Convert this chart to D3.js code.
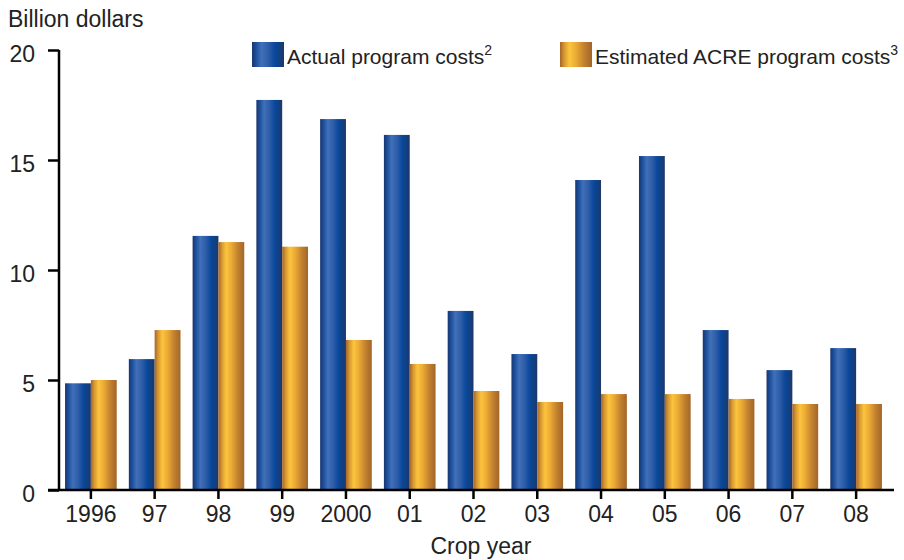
<!DOCTYPE html>
<html>
<head>
<meta charset="utf-8">
<script src="https://cdn.jsdelivr.net/npm/d3@7"></script>
<style>
  body { margin: 0; background: #fff; }
  svg { display: block; font-family: "Liberation Sans", Arial, sans-serif; }
  .tick text { fill: #222; font-size: 23px; }
</style>
</head>
<body>
<div id="wrapper"></div>
<script>
// data
const years = ['1996', '97', '98', '99', '2000', '01', '02', '03', '04', '05', '06', '07', '08'];
const actualCosts = [4.85, 5.95, 11.55, 17.73, 16.86, 16.14, 8.14, 6.18, 14.09, 15.18, 7.27, 5.45, 6.45];
const acreCosts = [5.0, 7.27, 11.27, 11.06, 6.82, 5.73, 4.5, 4.0, 4.36, 4.36, 4.14, 3.91, 3.91];
const yTicks = [0, 5, 10, 15, 20];
const seriesKeys = ['actual', 'acre'];

function drawChart() {
  const dataset = years.map((y, i) => ({ year: y, actual: actualCosts[i], acre: acreCosts[i] }));

  const dimensions = {
    width: 904,
    height: 560,
    margin: { top: 50, right: 10, bottom: 70, left: 59 },
  };
  dimensions.boundedWidth = dimensions.width - dimensions.margin.left - dimensions.margin.right;
  dimensions.boundedHeight = dimensions.height - dimensions.margin.top - dimensions.margin.bottom;

  const wrapper = d3.select('#wrapper')
    .append('svg')
    .attr('width', dimensions.width)
    .attr('height', dimensions.height);

  // gradients
  const defs = wrapper.append('defs');
  const gradStops = {
    actual: [['0%', '#1b356c'], ['12%', '#1a4d9b'], ['30%', '#4170b8'], ['50%', '#2f5eaa'], ['72%', '#08479a'], ['100%', '#1d386a']],
    acre: [['0%', '#a3662a'], ['14%', '#d99a31'], ['30%', '#fcc43d'], ['50%', '#ecaa35'], ['75%', '#c2822f'], ['100%', '#a26528']],
  };
  seriesKeys.forEach(k => {
    defs.append('linearGradient')
      .attr('id', 'grad-' + k)
      .attr('x1', 0).attr('x2', 1).attr('y1', 0).attr('y2', 0)
      .selectAll('stop')
      .data(gradStops[k])
      .enter()
      .append('stop')
      .attr('offset', d => d[0])
      .attr('stop-color', d => d[1]);
  });

  const bounds = wrapper.append('g')
    .attr('transform', `translate(${dimensions.margin.left},${dimensions.margin.top})`);

  // scales
  const x0 = d3.scaleBand()
    .domain(years)
    .range([0, dimensions.boundedWidth - 6])
    .paddingInner(0.19)
    .paddingOuter(0.095);
  const x1 = d3.scaleBand()
    .domain(seriesKeys)
    .range([0, x0.bandwidth()]);
  const yScale = d3.scaleLinear()
    .domain([0, 20])
    .range([dimensions.boundedHeight, 0]);

  // bars
  const groups = bounds.selectAll('.year')
    .data(dataset)
    .enter()
    .append('g')
    .attr('class', 'year')
    .attr('transform', d => `translate(${x0(d.year)},0)`);
  groups.selectAll('rect')
    .data(d => seriesKeys.map(k => ({ key: k, value: d[k] })))
    .enter()
    .append('rect')
    .attr('x', d => x1(d.key))
    .attr('width', x1.bandwidth())
    .attr('y', d => yScale(d.value))
    .attr('height', d => yScale(0) - yScale(d.value))
    .attr('fill', d => `url(#grad-${d.key})`);

  // axes
  const yAxis = bounds.append('g')
    .call(d3.axisLeft(yScale).tickValues(yTicks).tickSize(11).tickPadding(13));
  yAxis.select('.domain').remove();
  yAxis.append('line')
    .attr('x1', 0).attr('x2', 0)
    .attr('y1', 0).attr('y2', dimensions.boundedHeight)
    .attr('stroke', '#000').attr('stroke-width', 2.5);
  yAxis.selectAll('.tick line').attr('stroke', '#000').attr('stroke-width', 2.5);
  yAxis.selectAll('.tick text').attr('dy', '0.5em');

  const xAxis = bounds.append('g')
    .attr('transform', `translate(0,${dimensions.boundedHeight})`)
    .call(d3.axisBottom(x0).tickSize(9).tickPadding(7));
  xAxis.select('.domain').remove();
  xAxis.append('line')
    .attr('x1', -11).attr('x2', dimensions.boundedWidth)
    .attr('y1', 0).attr('y2', 0)
    .attr('stroke', '#000').attr('stroke-width', 2.5);
  xAxis.selectAll('.tick line').attr('stroke', '#000').attr('stroke-width', 2.5);

  // labels
  wrapper.append('text')
    .attr('x', 8).attr('y', 27)
    .attr('fill', '#222')
    .style('font-size', '23px')
    .text('Billion dollars');
  wrapper.append('text')
    .attr('x', 481)
    .attr('y', 554)
    .attr('text-anchor', 'middle')
    .attr('fill', '#222')
    .style('font-size', '23px')
    .text('Crop year');

  // legend
  const legendItems = [
    { key: 'actual', label: 'Actual program costs', sup: '2', x: 252 },
    { key: 'acre', label: 'Estimated ACRE program costs', sup: '3', x: 560 },
  ];
  const legend = wrapper.selectAll('.legend')
    .data(legendItems)
    .enter()
    .append('g')
    .attr('class', 'legend')
    .attr('transform', d => `translate(${d.x},42)`);
  legend.append('rect')
    .attr('width', 32).attr('height', 25)
    .attr('fill', d => `url(#grad-${d.key})`);
  const legendText = legend.append('text')
    .attr('x', 35).attr('y', 22)
    .attr('fill', '#222')
    .style('font-size', '21px');
  legendText.append('tspan').text(d => d.label);
  legendText.append('tspan')
    .attr('dy', -9)
    .style('font-size', '14px')
    .text(d => d.sup);
}

drawChart();
</script>
</body>
</html>
